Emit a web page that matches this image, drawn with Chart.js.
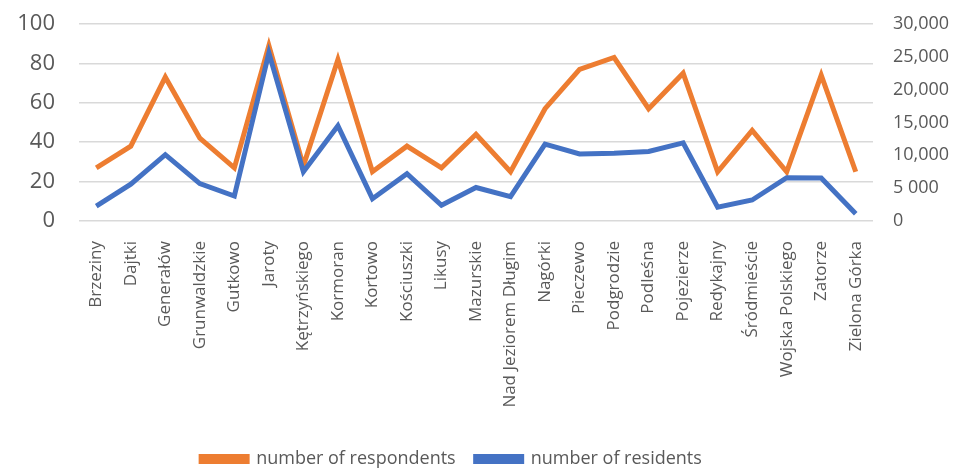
<!DOCTYPE html>
<html>
<head>
<meta charset="utf-8">
<script src="https://cdn.jsdelivr.net/npm/chart.js@4/dist/chart.umd.min.js"></script>
<style>
  html, body { margin: 0; padding: 0; background: #fff; }
  #wrap { width: 963px; height: 470px; }
</style>
</head>
<body>
<div id="wrap"><canvas id="chart" width="963" height="470"></canvas></div>
<script>
var districts = [
  "Brzeziny", "Dajtki", "Generałów", "Grunwaldzkie", "Gutkowo", "Jaroty",
  "Kętrzyńskiego", "Kormoran", "Kortowo", "Kościuszki", "Likusy", "Mazurskie",
  "Nad Jeziorem Długim", "Nagórki", "Pieczewo", "Podgrodzie", "Podleśna",
  "Pojezierze", "Redykajny", "Śródmieście", "Wojska Polskiego", "Zatorze",
  "Zielona Górka"
];
var respondents = [27, 38, 73, 42, 27, 89, 28, 82, 25, 38, 27, 44,
  25, 57, 77, 83, 57, 75, 25, 46, 25, 74, 25];
var residents = [2250, 5600, 10100, 5700, 3800, 25600, 7500, 14500, 3400, 7200, 2400, 5100,
  3700, 11700, 10200, 10300, 10600, 11900, 2100, 3200, 6600, 6550, 1100];
var residentTicks = ["0", "5 000", "10,000", "15,000", "20,000", "25,000", "30,000"];

var grey = "#595959";
var font = "'Open Sans', sans-serif";
var clear = "rgba(0,0,0,0)";

// nudge the legend a little to the left of the canvas centre
var legendShift = {
  id: "legendShift",
  afterLayout: function(chart) {
    var lg = chart.legend;
    lg.left -= 30;
    lg.right -= 30;
  }
};

var cfg = {
  type: "line",
  data: {
    labels: districts,
    datasets: [{
      label: "number of respondents",
      data: respondents,
      borderColor: "#ED7D31",
      backgroundColor: "#ED7D31",
      borderWidth: 5,
      pointRadius: 0,
      tension: 0,
      yAxisID: "y",
      order: 2
    }, {
      label: "number of residents",
      data: residents,
      borderColor: "#4472C4",
      backgroundColor: "#4472C4",
      borderWidth: 5,
      pointRadius: 0,
      tension: 0,
      yAxisID: "y1",
      order: 1
    }]
  },
  plugins: [legendShift],
  options: {
    responsive: false,
    animation: false,
    layout: { padding: { top: 24, right: 0, bottom: -8, left: 0 } },
    plugins: {
      tooltip: { enabled: false },
      legend: {
        position: "bottom",
        labels: {
          font: { family: font, size: 18 },
          color: grey,
          boxWidth: 46,
          boxHeight: 5,
          padding: 20,
          sort: function(a, b) { return a.datasetIndex - b.datasetIndex; }
        }
      }
    },
    scales: {
      x: {
        offset: true,
        grid: { display: false },
        border: { display: false },
        ticks: {
          font: { family: font, size: 17 },
          color: grey,
          minRotation: 90,
          maxRotation: 90,
          autoSkip: false,
          padding: 12
        },
        afterFit: function(axis) { axis.height = 209; }
      },
      y: {
        position: "left",
        min: 0,
        max: 100,
        // invisible tick marks keep the labels away from the plot
        grid: { color: "#D9D9D9", lineWidth: 1.5, drawTicks: true, tickLength: 24, tickColor: clear },
        border: { display: false },
        ticks: {
          stepSize: 20,
          font: { family: font, size: 22 },
          color: grey,
          padding: 0
        },
        afterFit: function(axis) { axis.width = 79; }
      },
      y1: {
        position: "right",
        min: 0,
        max: 30000,
        grid: { drawOnChartArea: false, drawTicks: true, tickLength: 20, tickColor: clear },
        border: { display: false },
        ticks: {
          stepSize: 5000,
          font: { family: font, size: 18 },
          color: grey,
          padding: 0,
          callback: function(value) { return residentTicks[Math.round(value / 5000)]; }
        },
        afterFit: function(axis) { axis.width = 90; }
      }
    }
  }
};

var ctx = document.getElementById("chart").getContext("2d");
window.chart = new Chart(ctx, cfg);
</script>
</body>
</html>
